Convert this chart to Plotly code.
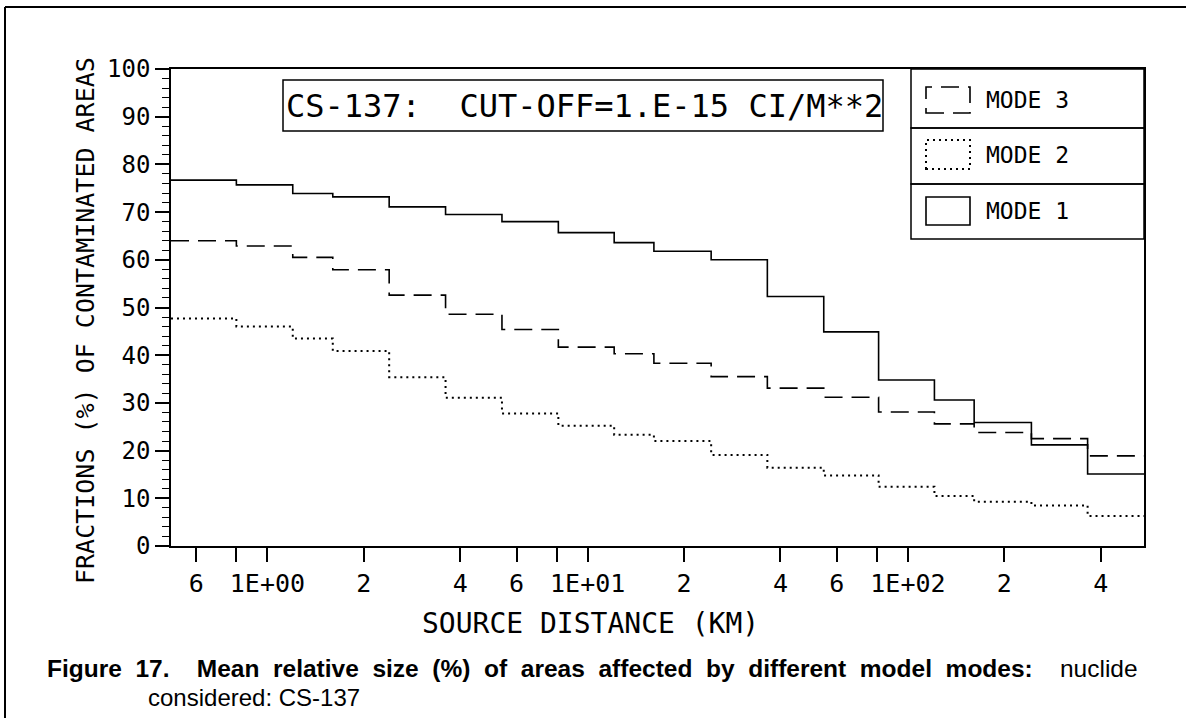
import math
import plotly.graph_objects as go

# ---------------- data ----------------
edges = [0.5, 0.8, 1.2, 1.6, 2.4, 3.6, 5.4, 8.1, 12.1, 16.1, 24.3, 36.4, 54.6, 81, 121, 161, 243, 364, 546]
mode1 = [76.7, 75.7, 73.9, 73.2, 71.1, 69.5, 68.0, 65.7, 63.6, 61.8, 60.0, 52.3, 44.9, 34.8, 30.6, 25.9, 21.2, 15.1]
mode2 = [47.7, 46.0, 43.5, 40.9, 35.4, 31.1, 27.8, 25.2, 23.3, 22.0, 19.1, 16.4, 14.8, 12.4, 10.5, 9.3, 8.5, 6.3]
mode3 = [64.0, 62.9, 60.5, 57.9, 52.6, 48.6, 45.4, 41.7, 40.3, 38.3, 35.5, 33.1, 31.2, 28.1, 25.6, 23.8, 22.5, 18.9]
x_tickvals = [0.6, 0.8, 1, 2, 4, 6, 8, 10, 20, 40, 60, 80, 100, 200, 400]
x_ticktext = ["6", "", "1E+00", "2", "4", "6", "", "1E+01", "2", "4", "6", "", "1E+02", "2", "4"]
legend_labels = ["MODE 3", "MODE 2", "MODE 1"]

MONO = "DejaVu Sans Mono"
W, H = 1190, 718
L, R, T, B = 171, 1144, 69, 546  # plot area in pixels


def px(x):
    return (x - L) / (R - L)


def py(y):
    return (B - y) / (B - T)


fig = go.Figure()
for vals, dash, name in [(mode1, "solid", "MODE 1"), (mode2, "2px,4px", "MODE 2"), (mode3, "18px,9px", "MODE 3")]:
    fig.add_trace(go.Scatter(
        x=edges, y=vals + [vals[-1]], mode="lines", name=name,
        line=dict(shape="hv", color="black", width=1.6 if dash != "2px,4px" else 2, dash=dash),
        showlegend=False, hoverinfo="skip"))

shapes = []
annotations = []

# annotation box
shapes.append(dict(type="rect", xref="paper", yref="paper", x0=px(283), x1=px(883), y0=py(131), y1=py(80),
                   line=dict(color="black", width=1.5)))
annotations.append(dict(xref="paper", yref="paper", x=px(584), y=py(106), text="CS-137:  CUT-OFF=1.E-15 CI/M**2",
                        showarrow=False, font=dict(family=MONO, size=32, color="black"),
                        xanchor="center", yanchor="middle"))

# legend box
lx0, lx1 = 911, 1144
rows = [(69, 128), (128, 184), (184, 239)]
for (ya, yb) in rows:
    shapes.append(dict(type="rect", xref="paper", yref="paper", x0=px(lx0), x1=px(lx1), y0=py(yb), y1=py(ya),
                       line=dict(color="black", width=1.5)))
sym = [("18px,9px", 87, 113, 1.6), ("2px,4px", 140, 169, 2), ("solid", 197, 225, 1.6)]
for (dash, ya, yb, w), lab in zip(sym, legend_labels):
    shapes.append(dict(type="rect", xref="paper", yref="paper", x0=px(926), x1=px(970), y0=py(yb), y1=py(ya),
                       line=dict(color="black", width=w, dash=dash)))
    annotations.append(dict(xref="paper", yref="paper", x=px(984), y=py((ya + yb) / 2), text=lab, showarrow=False,
                            font=dict(family=MONO, size=23, color="black"), xanchor="left", yanchor="middle"))

# axis titles
annotations.append(dict(xref="paper", yref="paper", x=px(590), y=py(623), text="SOURCE DISTANCE (KM)",
                        showarrow=False, font=dict(family=MONO, size=28, color="black"),
                        xanchor="center", yanchor="middle"))
annotations.append(dict(xref="paper", yref="paper", x=px(85), y=py(321), text="FRACTIONS (%) OF CONTAMINATED AREAS",
                        showarrow=False, textangle=-90, font=dict(family=MONO, size=25, color="black"),
                        xanchor="center", yanchor="middle"))

# caption (justified look via non-breaking spaces)
sp = "\u00A0" * 2
dsp = "\u00A0" * 4
cap1 = ("<b>Figure" + sp + "17." + dsp + "Mean" + sp + "relative" + sp + "size" + sp + "(%)" + sp + "of" + sp +
        "areas" + sp + "affected" + sp + "by" + sp + "different" + sp + "model" + sp + "modes:</b>" + dsp + "nuclide")
annotations.append(dict(xref="paper", yref="paper", x=px(45), y=py(668), text=cap1,
                        showarrow=False, font=dict(family="Liberation Sans", size=24.5, color="black"),
                        xanchor="left", yanchor="middle"))
annotations.append(dict(xref="paper", yref="paper", x=px(146), y=py(697), text="considered:\u00A0CS-137",
                        showarrow=False, font=dict(family="Liberation Sans", size=24, color="black"),
                        xanchor="left", yanchor="middle"))

# outer frame
shapes.append(dict(type="line", xref="paper", yref="paper", x0=px(5), x1=px(1186), y0=py(7), y1=py(7),
                   line=dict(color="black", width=2)))
shapes.append(dict(type="line", xref="paper", yref="paper", x0=px(5), x1=px(5), y0=py(7), y1=py(718),
                   line=dict(color="black", width=2)))

fig.update_layout(
    width=W, height=H,
    margin=dict(l=L, r=W - R, t=T, b=H - B),
    paper_bgcolor="white", plot_bgcolor="white",
    shapes=shapes, annotations=annotations,
    xaxis=dict(type="log", range=[math.log10(0.5), math.log10(546)],
               tickvals=x_tickvals, ticktext=x_ticktext, ticks="outside", ticklen=14, tickwidth=1.5,
               tickcolor="black", showline=True, linecolor="black", linewidth=1.5, mirror=True,
               showgrid=False, zeroline=False,
               tickfont=dict(family=MONO, size=25, color="black")),
    yaxis=dict(range=[0, 100], tickvals=list(range(0, 101, 10)), ticks="outside", ticklen=14, tickwidth=1.5,
               tickcolor="black", showline=True, linecolor="black", linewidth=1.5, mirror=True,
               showgrid=False, zeroline=False,
               minor=dict(dtick=2, ticks="outside", ticklen=7, tickcolor="black", tickwidth=1),
               tickfont=dict(family=MONO, size=24, color="black")),
)

fig.write_html("out.html")
